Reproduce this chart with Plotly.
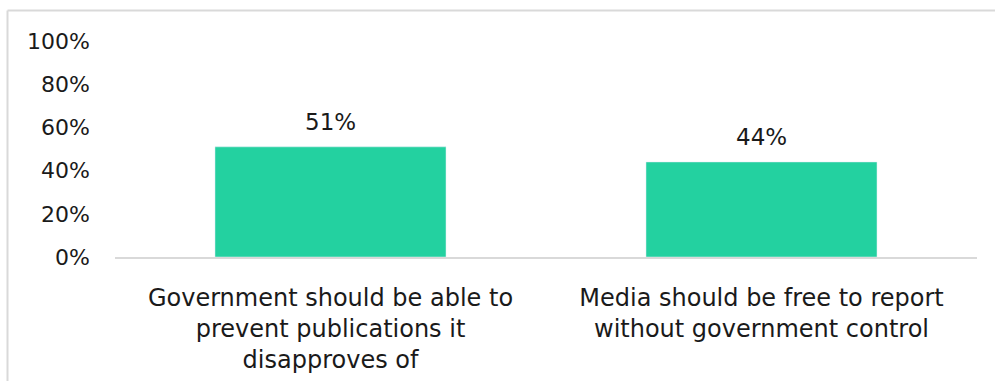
import plotly.graph_objects as go

categories = ["Government should be able to<br>prevent publications it<br>disapproves of",
              "Media should be free to report<br>without government control"]
values = [0.51, 0.44]
tick_vals = [0, 0.2, 0.4, 0.6, 0.8, 1.0]

BAR = "#23D1A0"
GRAY = "#D9D9D9"
FONT = "DejaVu Sans"
TXT = "#1a1a1a"

fig = go.Figure()
fig.add_trace(go.Bar(x=categories, y=values, marker_color=BAR, width=0.536,
                     hoverinfo="skip"))

for c, v in zip(categories, values):
    fig.add_annotation(x=c, y=v, text=f"{v:.0%}", showarrow=False,
                       yanchor="bottom", yshift=10,
                       font=dict(family=FONT, size=23, color=TXT))

W, H = 995, 381
l, r, t, b = 115, 18, 41, 124
pw, ph = W - l - r, H - t - b

def px(x):
    return (x - l) / pw

def py(y):
    return (H - b - y) / ph

fig.add_shape(type="line", xref="paper", yref="paper",
              x0=px(7.5), x1=px(996), y0=py(10.5), y1=py(10.5),
              line=dict(color=GRAY, width=2))
fig.add_shape(type="line", xref="paper", yref="paper",
              x0=px(7.5), x1=px(7.5), y0=py(10.5), y1=py(382),
              line=dict(color=GRAY, width=2))

fig.update_layout(
    width=W, height=H,
    margin=dict(l=l, r=r, t=t, b=b, autoexpand=False),
    paper_bgcolor="white", plot_bgcolor="white",
    showlegend=False,
    font=dict(family=FONT, size=20, color=TXT),
)
fig.update_xaxes(showline=True, linecolor=GRAY, linewidth=2, showgrid=False,
                 ticks="", ticklabelstandoff=18,
                 tickfont=dict(family=FONT, size=24, color=TXT))
fig.update_yaxes(range=[0, 1], tickvals=tick_vals, tickformat=".0%",
                 showgrid=False, zeroline=False, showline=False,
                 ticklabelstandoff=24,
                 tickfont=dict(family=FONT, size=22, color=TXT))

fig.write_html("out.html")
